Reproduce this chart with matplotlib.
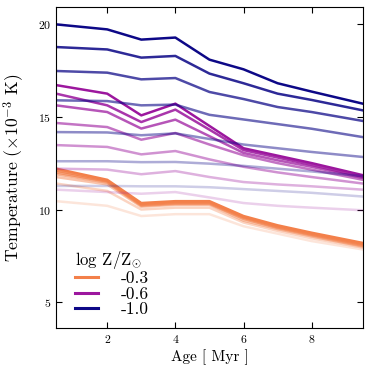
import numpy as np
import matplotlib
matplotlib.use("Agg")
import matplotlib.pyplot as plt
from matplotlib.ticker import FuncFormatter

plt.rcParams['mathtext.fontset'] = 'cm'
plt.rcParams['font.family'] = 'serif'
plt.rcParams['font.serif'] = ['cmr10', 'DejaVu Serif']
plt.rcParams['axes.formatter.use_mathtext'] = True

# ages (Myr) at which the tracks are sampled
age = [0.5, 2, 3, 4, 5, 6, 7, 8, 9.5]

# temperature (x1e-3 K), lightest -> darkest for each metallicity
temp_m03 = [
    [10.45, 10.2, 9.65, 9.75, 9.75, 9.1, 8.7, 8.3, 7.85],
    [11.4, 11.0, 10.0, 10.1, 10.1, 9.3, 8.85, 8.45, 7.95],
    [11.75, 11.35, 10.15, 10.25, 10.25, 9.4, 8.95, 8.55, 8.0],
    [11.9, 11.45, 10.2, 10.3, 10.3, 9.5, 9.0, 8.6, 8.05],
    [12.0, 11.5, 10.25, 10.35, 10.35, 9.55, 9.05, 8.65, 8.1],
    [12.1, 11.55, 10.3, 10.4, 10.4, 9.6, 9.1, 8.7, 8.15],
    [12.2, 11.6, 10.35, 10.45, 10.45, 9.65, 9.15, 8.75, 8.2],
]
temp_m06 = [
    [11.07, 10.94, 10.85, 10.94, 10.65, 10.35, 10.2, 10.1, 9.96],
    [12.2, 12.15, 11.9, 12.07, 11.75, 11.48, 11.35, 11.25, 11.07],
    [13.47, 13.37, 12.97, 13.15, 12.7, 12.3, 12.0, 11.75, 11.4],
    [14.66, 14.44, 13.76, 14.12, 13.5, 12.92, 12.5, 12.15, 11.6],
    [15.61, 15.25, 14.36, 14.84, 13.95, 13.05, 12.65, 12.3, 11.7],
    [16.24, 15.61, 14.71, 15.38, 14.3, 13.2, 12.8, 12.4, 11.75],
    [16.7, 16.24, 15.07, 15.7, 14.5, 13.3, 12.9, 12.5, 11.85],
]
temp_m10 = [
    [11.27, 11.27, 11.25, 11.25, 11.2, 11.1, 11.0, 10.9, 10.7],
    [12.6, 12.6, 12.55, 12.56, 12.47, 12.35, 12.2, 12.05, 11.8],
    [14.17, 14.15, 14.0, 14.1, 13.8, 13.5, 13.3, 13.1, 12.83],
    [15.88, 15.84, 15.61, 15.65, 15.1, 14.85, 14.6, 14.35, 13.9],
    [17.46, 17.37, 17.01, 17.08, 16.33, 15.95, 15.52, 15.25, 14.77],
    [18.75, 18.62, 18.18, 18.27, 17.32, 16.8, 16.24, 15.9, 15.34],
    [19.97, 19.7, 19.15, 19.26, 18.07, 17.55, 16.8, 16.35, 15.7],
]

labels = ['-0.3', '-0.6', '-1.0']
colors = ['#f3804a', '#9c179e', '#0d0887']

fig = plt.figure(figsize=(3.74, 3.74), dpi=100)
ax = fig.add_axes([0.15, 0.122, 0.82, 0.859])

alphas = np.linspace(0.2, 1.0, 7)
for tracks, c, lab in zip([temp_m03, temp_m06, temp_m10], colors, labels):
    for i, t in enumerate(tracks):
        ax.plot(age, t, color=c, alpha=alphas[i], lw=1.8,
                label=lab if i == len(tracks) - 1 else None)

ax.set_xlim(0.5, 9.5)
ax.set_ylim(3.6, 20.9)
ax.set_xticks([2, 4, 6, 8])
ax.set_yticks([5, 10, 15, 20])
fmt = FuncFormatter(lambda v, p: r'$%d$' % v)
ax.xaxis.set_major_formatter(fmt)
ax.yaxis.set_major_formatter(fmt)
ax.tick_params(direction='in', top=True, right=True, labelsize=8.5, length=4)

ax.set_xlabel('Age [ Myr ]', fontsize=11, labelpad=3)
ax.set_ylabel(r'Temperature ($\times 10^{-3}$ K)', fontsize=12.7, labelpad=8)

leg = ax.legend(loc='lower left', frameon=False, fontsize=12.5,
                title=r'log Z/Z$_{\odot}$', title_fontsize=12,
                handlelength=1.35, handletextpad=1.3, labelspacing=0.0,
                borderpad=0.0, borderaxespad=0.0, bbox_to_anchor=(0.06, 0.035))
leg._legend_box.align = 'left'
for line in leg.get_lines():
    line.set_linewidth(2.2)

fig.savefig('out.png', dpi=100)
